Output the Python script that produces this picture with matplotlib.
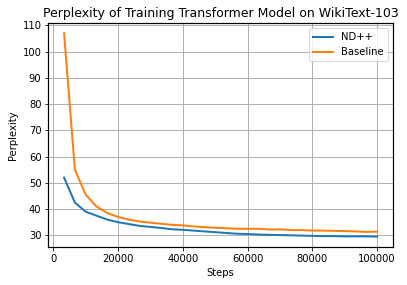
import matplotlib
matplotlib.use("Agg")
import matplotlib.pyplot as plt

# ---- data -----------------------------------------------------------------
steps = [3333 * k for k in range(1, 31)]
ndpp = [52.0, 42.5, 39.0, 37.5, 36.0, 35.0, 34.3, 33.6, 33.2, 32.8,
        32.3, 32.1, 31.8, 31.5, 31.2, 30.9, 30.6, 30.5, 30.3, 30.2,
        30.1, 30.0, 29.9, 29.8, 29.7, 29.7, 29.6, 29.6, 29.6, 29.5]
baseline = [107.0, 55.0, 45.5, 41.0, 38.5, 37.0, 36.0, 35.3, 34.8, 34.4,
            34.0, 33.8, 33.4, 33.1, 32.9, 32.7, 32.5, 32.5, 32.5, 32.2,
            32.3, 32.0, 32.0, 31.8, 31.8, 31.7, 31.6, 31.5, 31.3, 31.4]

DPI = 72
fig = plt.figure(figsize=(407 / DPI, 285 / DPI), dpi=DPI)
ax = fig.add_axes([0.119, 0.134, 0.846, 0.785])

ax.plot(steps, ndpp, color="#1f77b4", lw=2, label="ND++")
ax.plot(steps, baseline, color="#ff7f0e", lw=2, label="Baseline")

ax.set_title("Perplexity of Training Transformer Model on WikiText-103", fontsize=12.5)
ax.set_xlabel("Steps")
ax.set_ylabel("Perplexity")
ax.grid(True, color="#b0b0b0", lw=1)
for s in ax.spines.values():
    s.set_linewidth(1.2)
ax.legend(loc="upper right")

fig.savefig("out.png", dpi=DPI)
